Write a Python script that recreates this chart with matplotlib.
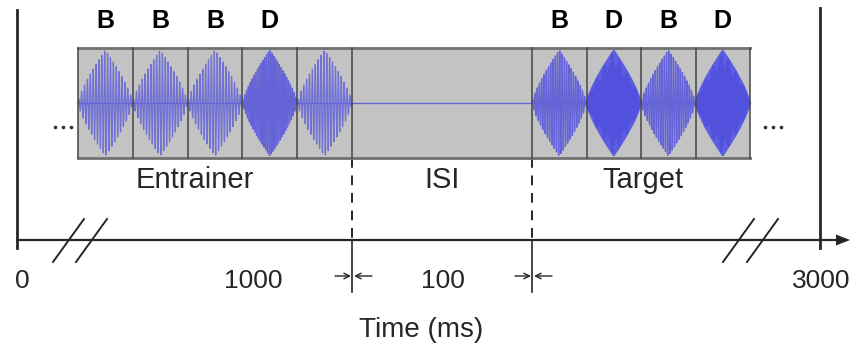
import numpy as np
import matplotlib.pyplot as plt
from matplotlib.patches import Rectangle, Polygon

plt.rcParams['font.family'] = ['Liberation Sans', 'DejaVu Sans']

# tone sequence in each block (B = base tone, D = deviant tone)
entrainer_tones = ['B', 'B', 'B', 'D', 'B']
target_tones = ['B', 'D', 'B', 'D']
entrainer_marks = ['B', 'B', 'B', 'D']   # letters written above the entrainer
target_marks = ['B', 'D', 'B', 'D']
segment_names = ['Entrainer', 'ISI', 'Target']
tick_labels = ['0', '1000', '100', '3000']
xlabel = 'Time (ms)'

BLUE = '#5e5ee2'
LINE = '#6464d8'
DARK = '#3a3ad6'
GRAY = '#c3c3c3'
INK = '#262626'

fig = plt.figure(figsize=(8.58, 3.46), dpi=100)
ax = fig.add_axes([0, 0, 1, 1])
ax.set_xlim(0, 858)
ax.set_ylim(346, 0)
ax.axis('off')

# stimulus strip
box_l, box_r, box_t, box_b = 78, 750, 48, 158
mid = (box_t + box_b) / 2
amp = 53
ent_l, ent_w = 78, 54.8
tgt_l, tgt_w = 532, 54.5
isi_l, isi_r = ent_l + ent_w * len(entrainer_tones), tgt_l

ax.add_patch(Rectangle((box_l, box_t), box_r - box_l, box_b - box_t,
                       facecolor=GRAY, edgecolor='none', zorder=1))
ax.plot([box_l, box_r], [mid, mid], color=LINE, lw=1, zorder=2)


def envelope(t):
    return (1 - np.abs(2 * t - 1)) ** 0.75


def shape(x0, w, n=200):
    t = np.linspace(0, 1, n)
    e = envelope(t)
    xs = x0 + w * t
    return np.r_[xs, xs[::-1]], np.r_[mid - amp * e, (mid + amp * e)[::-1]]


def draw_tone(x0, w, kind, block):
    t = np.linspace(0, 1, 3000)
    env = envelope(t)
    xs = x0 + w * t
    if kind == 'B':
        if block == 'target':
            px, py = shape(x0, w)
            ax.fill(px, py, color=BLUE, alpha=0.4, lw=0, zorder=3)
            sig = np.sin(2 * np.pi * 24 * t)
            ax.plot(xs, mid - amp * env * sig, color=LINE, lw=0.8, zorder=3)
        else:
            sig = np.sin(2 * np.pi * 19 * t)
            ax.plot(xs, mid - amp * env * sig, color=LINE, lw=0.9,
                    alpha=0.85, zorder=3)
    else:
        px, py = shape(x0, w)
        if block == 'target':
            ax.fill(px, py, color=BLUE, lw=0.8, zorder=3)
            sig = np.sin(2 * np.pi * 45 * t) * (0.85 + 0.15 * np.sin(2 * np.pi * 7 * t))
            ax.plot(xs, mid - amp * env * sig, color=DARK, lw=0.5,
                    alpha=0.35, zorder=3)
        else:
            ax.fill(px, py, color=BLUE, alpha=0.5, lw=0, zorder=3)
            sig = np.sin(2 * np.pi * 30 * t)
            ax.plot(xs, mid - amp * env * sig, color=LINE, lw=0.8, zorder=3)


for i, k in enumerate(entrainer_tones):
    draw_tone(ent_l + i * ent_w, ent_w, k, 'entrainer')
for i, k in enumerate(target_tones):
    draw_tone(tgt_l + i * tgt_w, tgt_w, k, 'target')

# strip borders and cell dividers
ax.plot([box_l, box_r], [box_t, box_t], color='#707070', lw=2, zorder=4)
ax.plot([box_l, box_r], [box_b, box_b], color='#707070', lw=2, zorder=4)
edges = [ent_l + i * ent_w for i in range(len(entrainer_tones) + 1)]
edges += [tgt_l + i * tgt_w for i in range(len(target_tones) + 1)]
for xe in edges:
    ax.plot([xe, xe], [box_t, box_b], color='#454545', lw=1.1, zorder=4)

# letters above the tones
for i, m in enumerate(entrainer_marks):
    ax.text(ent_l + (i + 0.5) * ent_w, 28, m, ha='center', va='baseline',
            fontsize=18, fontweight='bold')
for i, m in enumerate(target_marks):
    ax.text(tgt_l + (i + 0.5) * tgt_w, 28, m, ha='center', va='baseline',
            fontsize=18, fontweight='bold')

# continuation dots
for xd in (63, 773):
    ax.plot([xd - 8, xd, xd + 8], [127, 127, 127], 'o', ms=2.6, color='#333333',
            mec='none')

# segment names
seg_centers = [(ent_l + isi_l) / 2 - 20, (isi_l + isi_r) / 2, (tgt_l + box_r) / 2 + 2]
for cx, name in zip(seg_centers, segment_names):
    ax.text(cx, 188, name, ha='center', va='baseline', fontsize=21, color=INK)

# time axis
axis_y = 240
ax.plot([17, 17], [10, 248], color=INK, lw=2)
ax.plot([820, 820], [8, 248], color=INK, lw=2)
ax.plot([17, 840], [axis_y, axis_y], color=INK, lw=1.6)
ax.add_patch(Polygon([[836, axis_y - 5.5], [850, axis_y], [836, axis_y + 5.5]],
                     closed=True, facecolor=INK, edgecolor='none'))

# axis break marks
for x1 in (53, 76, 723, 747):
    ax.plot([x1, x1 + 31], [262, 219], color=INK, lw=1.4)

# ISI boundaries
for xb in (isi_l, isi_r):
    ax.plot([xb, xb], [box_b, axis_y], color=INK, lw=1.4,
            linestyle=(0, (5, 4)))
    ax.plot([xb, xb], [axis_y, 292], color=INK, lw=1.2)
    ax.annotate('', xy=(xb - 1, 276), xytext=(xb - 17, 276),
                arrowprops=dict(arrowstyle='->', lw=1, color=INK,
                                shrinkA=0, shrinkB=0))
    ax.annotate('', xy=(xb + 2, 276), xytext=(xb + 20, 276),
                arrowprops=dict(arrowstyle='->', lw=1, color=INK,
                                shrinkA=0, shrinkB=0))

tick_x = [22, 253, 443, 821]
for x, lab in zip(tick_x, tick_labels):
    ax.text(x, 288, lab, ha='center', va='baseline', fontsize=19, color=INK)

ax.text(421, 337, xlabel, ha='center', va='baseline', fontsize=20, color=INK)

fig.savefig('out.png', dpi=100)
